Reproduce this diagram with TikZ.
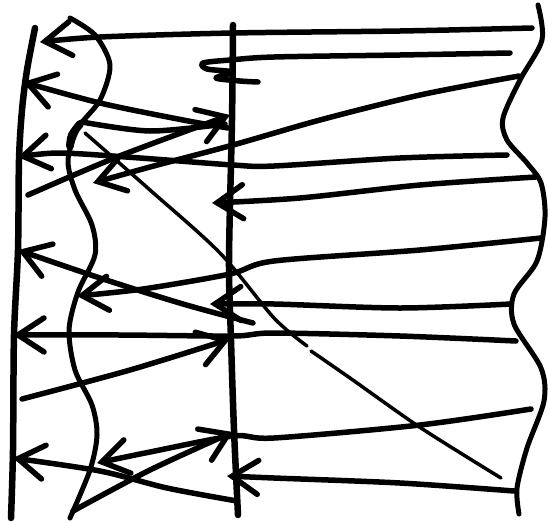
\documentclass[tikz,border=0pt]{standalone}
\usetikzlibrary{arrows.meta}
\tikzset{
  pole/.style={draw, line width=6.5pt, line cap=round, line join=round},
  wave/.style={draw, line width=5pt, line cap=round, line join=round},
  call/.style={draw, line width=5.5pt, line cap=round, line join=round,
    -{Straight Barb[length=26pt, width=34pt, line cap=round]}},
  scrawl/.style={draw, line width=5.5pt, line cap=round, line join=round},
  slash/.style={draw, line width=3.5pt, line cap=round}
}
\begin{document}
\begin{tikzpicture}[x=1pt, y=-1pt]
  \useasboundingbox (0,0) rectangle (548,522);
  % lifelines
  \draw[pole] plot[smooth] coordinates {(35,28) (27,70) (22,110) (19,160) (18,250) (14,335) (13,450) (11,518)};
  \draw[wave] plot[smooth] coordinates {(70,18) (95,35) (110,65) (100,100) (78,128) (68,160) (75,190) (92,225) (95,255) (78,292) (69,330) (75,370) (92,405) (97,435) (90,470) (70,518)};
  \draw[scrawl, line width=8pt] plot[smooth] coordinates {(80,124) (72,135) (70,146)};
  \draw[pole] plot[smooth] coordinates {(233,25) (232,120) (229,260) (231,340) (234,430) (238,515)};
  \draw[wave] plot[smooth] coordinates {(538,5) (542,40) (520,80) (503,118) (507,140) (527,163) (541,183) (545,217) (537,261) (514,294) (514,324) (541,368) (544,401) (527,448) (517,488) (519,514)};

  % messages, top to bottom
  \draw[call] plot[smooth] coordinates {(532,28) (400,31) (233,33) (100,37) (40,42)};
  \draw[scrawl] plot[smooth, tension=0.5] coordinates {(510,53) (400,55) (274,57) (230,60) (203,63) (207,69) (233,72) (216,78) (240,81) (258,82)};
  \draw[call] plot[smooth] coordinates {(519,76) (420,95) (320,120) (233,145) (150,167) (93,183)};
  \draw[call] plot[smooth] coordinates {(228,128) (183,120) (100,103) (23,82)};
  \draw[scrawl] plot[smooth] coordinates {(82,122) (150,131) (225,124)};
  \draw[call] plot[smooth] coordinates {(28,195) (117,157) (230,115)};
  \draw[call] plot[smooth] coordinates {(507,155) (400,158) (274,166) (233,165) (140,158) (60,153) (18,157)};
  \draw[call] plot[smooth] coordinates {(536,177) (420,185) (300,198) (212,203)};
  \draw[call] plot[smooth] coordinates {(541,238) (420,250) (274,261) (230,274) (143,289) (77,296)};
  \draw[call] plot[smooth] coordinates {(253,323) (183,304) (100,278) (18,250)};
  \draw[call] plot[smooth] coordinates {(511,304) (400,308) (274,304) (210,304)};
  \draw[call] plot[smooth] coordinates {(516,341) (400,336) (274,333) (233,336) (120,335) (13,335)};
  \draw[call] plot[smooth] coordinates {(22,399) (130,370) (230,339)};
  \draw[call] plot[smooth] coordinates {(531,409) (420,425) (274,438) (233,436) (150,452) (97,463)};
  \draw[call] plot[smooth] coordinates {(73,511) (150,470) (233,432)};
  \draw[call] plot[smooth] coordinates {(514,491) (400,483) (274,478) (227,476)};
  \draw[call] plot[smooth] coordinates {(237,501) (167,488) (100,471) (13,458)};

  % long diagonal
  \draw[slash] plot[smooth] coordinates {(85,133) (150,190) (220,253) (274,318) (307,346)};
  \draw[slash] plot[smooth] coordinates {(311,351) (350,378) (421,428) (501,478)};
\end{tikzpicture}
\end{document}
